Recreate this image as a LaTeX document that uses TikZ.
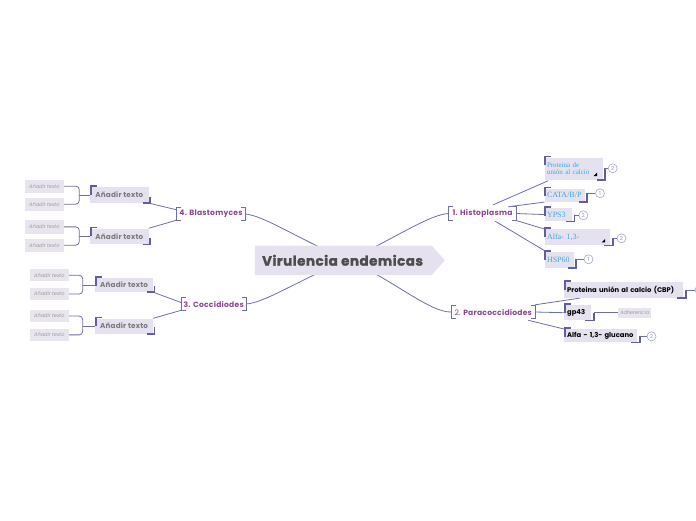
\documentclass[tikz,border=0pt]{standalone}
\usepackage{fontspec}
\setmainfont{Poppins}
\newfontfamily\tms{Liberation Serif}
\newfontfamily\heavy[LetterSpace=3.5, BoldFeatures={FakeBold=1.6}]{Poppins}
\newfontfamily\popls[LetterSpace=3]{Poppins}
\usetikzlibrary{shapes.symbols,calc,backgrounds}
\definecolor{linecol}{HTML}{6E6EAA}
\definecolor{brk}{HTML}{5E5EA0}
\definecolor{boxfill}{HTML}{E6E1EE}
\definecolor{leaffill}{HTML}{E9E5EF}
\definecolor{purp}{HTML}{8E4496}
\definecolor{titletext}{HTML}{4D4D4D}
\definecolor{graytext}{HTML}{7A7A7A}
\definecolor{leaftext}{HTML}{9A9A9A}
\definecolor{bluetext}{HTML}{3BA9E6}
\definecolor{circdraw}{HTML}{A8A8CC}
\definecolor{circtext}{HTML}{9A9AB8}
\newcommand\fs[1]{\fontsize{#1}{#1}\selectfont}
\newcommand\tlc[1]{\draw[corner] ($(#1.north west)+(0.8,8)$) -- ($(#1.north west)+(0.8,-1)$) -- ++(6,0);}
\newcommand\brc[1]{\draw[corner] ($(#1.south east)+(-6,0)$) -- ($(#1.south east)+(1.5,0)$) -- ++(0,-6.5);}
\newcommand\stepto[2]{%
  \coordinate (tmpA) at ($(#1.south east)+(2.5,0)$);
  \draw[corner] ($(#1.south east)+(-6,0)$) -- (tmpA) -- (tmpA |- #2.west);
  \draw[conn] (tmpA |- #2.west) -- (#2.west);}
\newcommand\brackets[1]{%
  \draw[conn] ($(#1.north west)+(4,0)$) -- (#1.north west) -- (#1.south west) -- ++(4,0);
  \draw[conn] ($(#1.north east)+(-4,0)$) -- (#1.north east) -- (#1.south east) -- ++(-4,0);}
\begin{document}
\begin{tikzpicture}[x=1pt,y=-1pt,
  conn/.style={draw=linecol, line width=0.8pt},
  corner/.style={draw=brk, line width=1.6pt},
  title/.style={fill=boxfill, text=titletext, font=\heavy\bfseries\fs{13.5}, inner sep=0pt},
  branch/.style={text=purp, font=\popls\bfseries\fs{7.6}, inner sep=0pt},
  hbox/.style={fill=boxfill, text=bluetext, font=\tms\fs{8}, inner xsep=2.5pt, inner ysep=0pt, align=left, anchor=north west},
  pbox/.style={fill=boxfill, text=black, font=\bfseries\fs{6.8}, inner xsep=3pt, inner ysep=0pt, align=left, anchor=north west},
  abox/.style={fill=boxfill, text=graytext, font=\popls\bfseries\fs{7.2}, inner sep=0pt, align=center, anchor=north west},
  leaf/.style={fill=leaffill, text=leaftext, font=\itshape\fs{5}, inner sep=0pt, align=center, anchor=north west},
  num/.style={circle, draw=circdraw, fill=white, line width=0.6pt, minimum size=9pt, inner sep=0pt, text=circtext, font=\fs{5.5}},
  tri/.style={fill=black}
]
\useasboundingbox (0,0) rectangle (696,520);

% central node
\node[title, signal, signal to=east, signal pointer angle=97, minimum width=190pt, minimum height=29.5pt] (c) at (343.3,260.3) {Virulencia endemicas\kern1.5pt};

% branches
\node[branch, minimum width=68.5pt, minimum height=12pt] (b4) at (211,214) {4. Blastomyces};
\node[branch, minimum width=67pt, minimum height=13pt] (b1) at (482.5,213.5) {1. Histoplasma};
\node[branch, minimum width=83pt, minimum height=12pt] (b2) at (493.3,312) {{\mdseries 2.} Paracoccidiodes};
\node[branch, minimum width=64pt, minimum height=12pt] (b3) at (213.7,304) {3. Coccidiodes};
\brackets{b4}\brackets{b1}\brackets{b2}\brackets{b3}

% Histoplasma children
\node[hbox, text width=53pt, minimum height=22pt, font=\tms\fs{7}] (h1) at (544.3,157.3) {Proteina de\\[0.5pt]unión al calcio};
\node[hbox, text width=35pt, minimum height=13.4pt] (h2) at (544.3,188.3) {CATA/B/P};
\node[hbox, text width=22.4pt, minimum height=13.3pt] (h3) at (544.3,207.7) {YPS3};
\node[hbox, text width=60.7pt, minimum height=16pt] (h4) at (544.3,229) {Alfa- 1,3-};
\node[hbox, text width=24pt, minimum height=15.6pt] (h5) at (544.3,251.7) {HSP60};
\node[num] (n1) at (612.7,168.3) {2};
\node[num] (n2) at (600,193.3) {1};
\node[num] (n3) at (583.3,215.3) {2};
\node[num] (n4) at (621.5,238.3) {2};
\node[num] (n5) at (588.5,259.3) {1};
\fill[tri] (593.5,176) -- (597,176) -- (597,172.5) -- cycle;
\fill[tri] (601.7,242.3) -- (605.2,242.3) -- (605.2,238.8) -- cycle;
\foreach \b in {h1,h2,h3,h4,h5} {\tlc{\b}}
\stepto{h1}{n1}\stepto{h2}{n2}\stepto{h3}{n3}\stepto{h4}{n4}\stepto{h5}{n5}

% Paracoccidiodes children
\node[pbox, text width=113pt, minimum height=16pt] (p1) at (564,281.7) {\mbox{Proteina unión al calcio (CBP)}};
\node[pbox, text width=21pt, minimum height=15pt] (p2) at (564,305) {\mbox{gp43}};
\node[pbox, text width=67pt, minimum height=13pt] (p3) at (564,329) {\mbox{Alfa - 1,3- glucano}};
\node[leaf, minimum width=33pt, minimum height=10pt, fill=leaffill] (ad) at (618,307.5) {Adherencia};
\node[num] (n6) at (699.5,290) {};
\node[num] (n7) at (651.5,336.3) {2};
\foreach \b in {p1,p2,p3} {\tlc{\b}}
\stepto{p1}{n6}\stepto{p2}{ad}\stepto{p3}{n7}

% Blastomyces children
\node[abox, minimum width=58.3pt, minimum height=16pt] (a1) at (90,186.7) {Añadir texto};
\node[abox, minimum width=58.3pt, minimum height=15.7pt] (a2) at (90,228.3) {Añadir texto};
\node[leaf, minimum width=38.3pt, minimum height=13.3pt] (l1) at (25,179.3) {Añadir texto};
\node[leaf, minimum width=38.3pt, minimum height=13.3pt] (l2) at (25,197.3) {Añadir texto};
\node[leaf, minimum width=38.3pt, minimum height=13.3pt] (l3) at (25,220) {Añadir texto};
\node[leaf, minimum width=38.3pt, minimum height=13.3pt] (l4) at (25,238.3) {Añadir texto};

% Coccidiodes children
\node[abox, minimum width=57.7pt, minimum height=14pt] (c1) at (95,277.7) {Añadir texto};
\node[abox, minimum width=57.7pt, minimum height=15pt] (c2) at (95,318.3) {Añadir texto};
\node[leaf, minimum width=38.3pt, minimum height=12pt] (l5) at (30,269) {Añadir texto};
\node[leaf, minimum width=38.3pt, minimum height=12.3pt] (l6) at (30,287.7) {Añadir texto};
\node[leaf, minimum width=38.3pt, minimum height=11.7pt] (l7) at (30,310) {Añadir texto};
\node[leaf, minimum width=38.3pt, minimum height=12.7pt] (l8) at (30,328.3) {Añadir texto};
\foreach \b in {a1,a2,c1,c2} {\tlc{\b}\brc{\b}}

\begin{scope}[on background layer]
  % center to branches
  \draw[conn] (348,260) .. controls (300,240) and (265,216) .. (b4.east);
  \draw[conn] (348,260) .. controls (392,240) and (430,214) .. (b1.west);
  \draw[conn] (348,260) .. controls (300,279) and (265,303) .. (b3.east);
  \draw[conn] (348,260) .. controls (392,279) and (430,313) .. (b2.west);
  % Histoplasma
  \draw[conn] ($(b1.north east)+(-23,-2)$) -- ($(h1.south west)+(4,1)$);
  \draw[conn] ($(b1.north east)+(-8,0)$) -- (h2.south west);
  \draw[conn] (b1.east) -- (h3.west);
  \draw[conn] ($(b1.south east)+(-1,0)$) -- (h4.north west);
  \draw[conn] ($(b1.south east)+(-21,1)$) -- ($(h5.north west)+(2,0)$);
  % Paracoccidiodes
  \draw[conn] ($(b2.north east)+(0,-1)$) -- ($(p1.south west)+(16,0)$);
  \draw[conn] (b2.east) -- (p2.west);
  \draw[conn] ($(b2.south east)+(-7,2)$) -- (p3.north west);
  % Blastomyces
  \draw[conn] ($(b4.north west)+(0,2)$) -- (a1.south east);
  \draw[conn] (b4.south west) -- (a2.north east);
  \draw[conn, rounded corners=3.5pt] (l1.east) -| ($(a1.west)+(-10.7,0)$) |- (l2.east);
  \draw[conn] (a1.west) -- ++(-10.7,0);
  \draw[conn, rounded corners=3.5pt] (l3.east) -| ($(a2.west)+(-10.7,0)$) |- (l4.east);
  \draw[conn] (a2.west) -- ++(-10.7,0);
  % Coccidiodes
  \draw[conn] ($(b3.west)+(0,-1.3)$) -- (c1.south east);
  \draw[conn] (b3.south west) -- (c2.north east);
  \draw[conn, rounded corners=3.5pt] (l5.east) -| ($(c1.west)+(-12.3,0)$) |- (l6.east);
  \draw[conn] (c1.west) -- ++(-12.3,0);
  \draw[conn, rounded corners=3.5pt] (l7.east) -| ($(c2.west)+(-12.3,0)$) |- (l8.east);
  \draw[conn] (c2.west) -- ++(-12.3,0);
\end{scope}
\end{tikzpicture}
\end{document}
